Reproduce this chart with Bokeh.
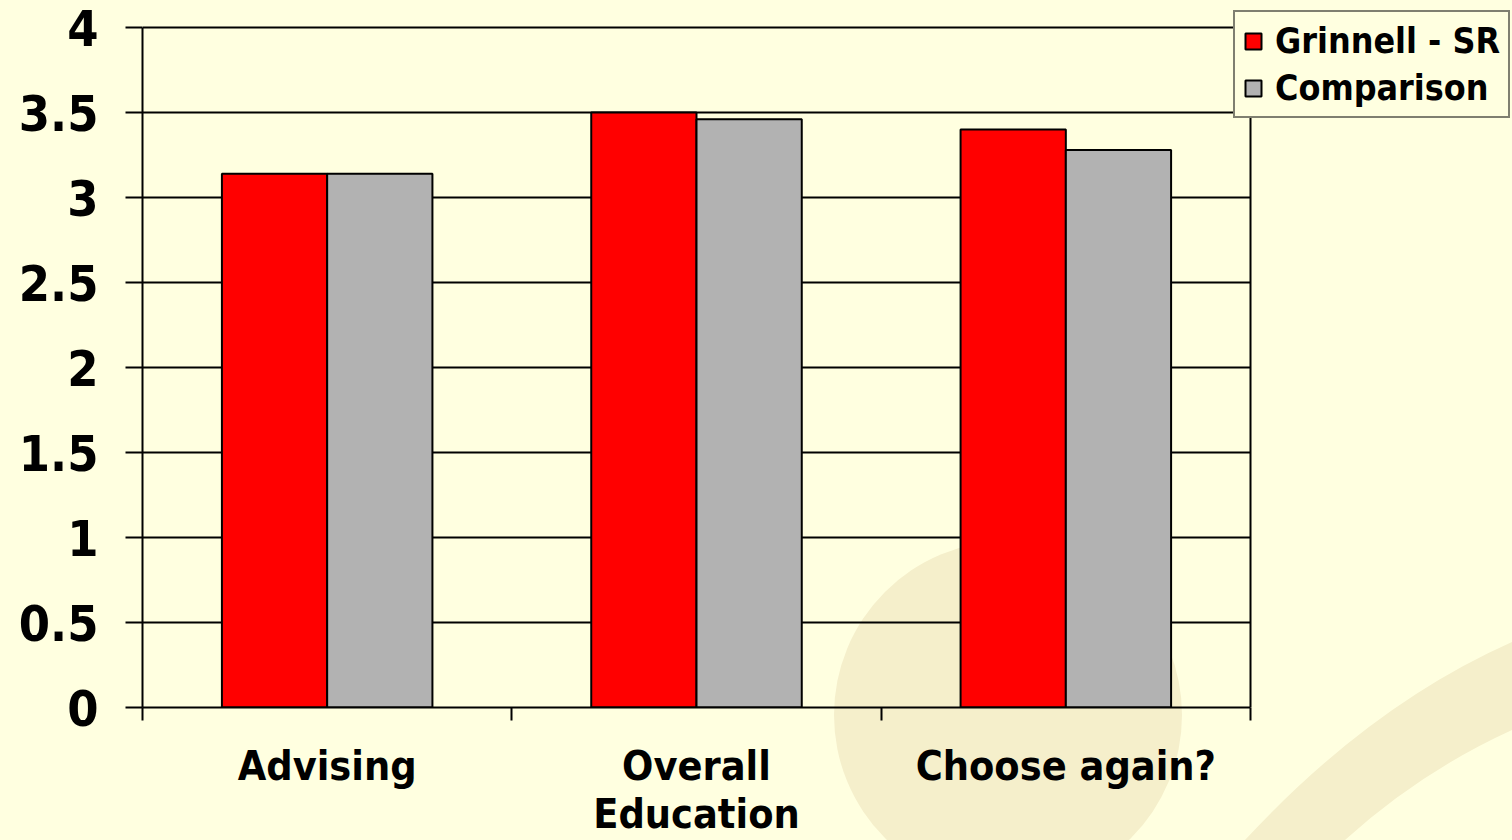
from urllib.parse import quote

from bokeh.plotting import figure
from bokeh.models import ColumnDataSource, FixedTicker, Legend, LegendItem, Span
from bokeh.embed import file_html
from bokeh.resources import INLINE

# ---------------- data ----------------
categories = ["Advising", "Overall\nEducation", "Choose again?"]
series_names = ["Grinnell - SR", "Comparison"]
grinnell_sr = [3.14, 3.50, 3.40]
comparison = [3.14, 3.46, 3.28]
y_ticks = [0, 0.5, 1, 1.5, 2, 2.5, 3, 3.5, 4]
y_tick_labels = ["0", "0.5", "1", "1.5", "2", "2.5", "3", "3.5", "4"]

# ---------------- style ----------------
FONT = "DejaVu Sans Condensed, DejaVu Sans"
BG = "#FFFFE0"
DECO = "#F5EFCB"
RED = "#FF0000"
GRAY = "#B2B2B2"

W, H = 1512, 840
LEFT, TOP, BOTTOM = 142, 8, 133           # frame borders in px
CHART_RIGHT_PX, CHART_TOP_PX = 1250, 27   # where the category area / value 4 end

n = len(categories)
centers = [i + 0.5 for i in range(n)]
bar_w = 0.285

# frame spans to the right edge so the legend may overhang the chart, as in the slide
x_end = n * (W - LEFT) / (CHART_RIGHT_PX - LEFT)
y_top = y_ticks[-1]
y_end = y_top * (H - BOTTOM - TOP) / (H - BOTTOM - CHART_TOP_PX)

src = ColumnDataSource(dict(
    xg=[c - bar_w / 2 for c in centers],
    xc=[c + bar_w / 2 for c in centers],
    g=grinnell_sr,
    c=comparison,
))

p = figure(width=W, height=H, x_range=(0, x_end), y_range=(0, y_end),
           output_backend="svg", toolbar_location=None,
           min_border_left=LEFT, min_border_right=0, min_border_top=TOP, min_border_bottom=BOTTOM)

# decorative slide background (page decoration only)
svg_bg = (
    f'<svg xmlns="http://www.w3.org/2000/svg" width="{W}" height="{H}">'
    f'<rect width="{W}" height="{H}" fill="{BG}"/>'
    f'<circle cx="1008" cy="715" r="174" fill="{DECO}"/>'
    f'<path d="M1512,642 Q1370,705 1245,840 L1345,840 Q1420,772 1512,730 Z" fill="{DECO}"/>'
    '</svg>'
)
p.styles = {"background-image": f'url("data:image/svg+xml;utf8,{quote(svg_bg)}")',
            "background-repeat": "no-repeat"}
p.background_fill_alpha = 0
p.border_fill_alpha = 0
p.outline_line_color = None

# grid lines limited to the chart area
p.xgrid.grid_line_color = None
yg = p.ygrid[0]
yg.ticker = FixedTicker(ticks=y_ticks)
yg.grid_line_color = "black"
yg.grid_line_width = 2
has_cross = "cross_bounds" in yg.properties()
if has_cross:
    yg.cross_bounds = (0, n)
    xg = p.xgrid[0]
    xg.ticker = FixedTicker(ticks=[n])
    xg.grid_line_color = "black"
    xg.grid_line_width = 2
    xg.cross_bounds = (0, y_top)
else:
    yg.grid_line_color = None
    p.segment(x0=[0] * len(y_ticks), x1=[n] * len(y_ticks), y0=y_ticks, y1=y_ticks,
              line_color="black", line_width=2)
    p.add_layout(Span(location=n, dimension="height", line_color="black", line_width=2))

r1 = p.vbar(x="xg", top="g", width=bar_w, bottom=0, source=src,
            fill_color=RED, line_color="black", line_width=2)
r2 = p.vbar(x="xc", top="c", width=bar_w, bottom=0, source=src,
            fill_color=GRAY, line_color="black", line_width=2)

# y axis
ya = p.yaxis[0]
ya.bounds = (0, y_top)
ya.ticker = FixedTicker(ticks=y_ticks)
ya.major_label_overrides = {t: lab for t, lab in zip(y_ticks, y_tick_labels)}
ya.major_label_text_font = FONT
ya.major_label_text_font_style = "bold"
ya.major_label_text_font_size = "50px"
ya.major_label_text_color = "black"
ya.major_label_standoff = 27
ya.major_tick_out = 17
ya.major_tick_in = 0
ya.major_tick_line_width = 2
ya.major_tick_line_color = "black"
ya.minor_tick_line_color = None
ya.axis_line_width = 2
ya.axis_line_color = "black"

# x axis: labels at category centres, tick marks at category boundaries
xa = p.xaxis[0]
xa.bounds = (0, n)
xa.ticker = FixedTicker(ticks=centers, minor_ticks=list(range(n + 1)))
xa.major_label_overrides = {c: lab for c, lab in zip(centers, categories)}
xa.major_label_text_font = FONT
xa.major_label_text_font_style = "bold"
xa.major_label_text_font_size = "41px"
xa.major_label_text_line_height = 1.0
xa.major_label_text_color = "black"
xa.major_label_standoff = 21
xa.major_tick_line_color = None
xa.major_tick_out = 0
xa.major_tick_in = 0
xa.minor_tick_line_color = "black"
xa.minor_tick_line_width = 2
xa.minor_tick_out = 13
xa.minor_tick_in = 0
xa.axis_line_width = 2
xa.axis_line_color = "black"

legend = Legend(
    items=[LegendItem(label=series_names[0], renderers=[r1]),
           LegendItem(label=series_names[1], renderers=[r2])],
    location=(1233 - LEFT, H - BOTTOM - 118),
    label_text_font=FONT, label_text_font_style="bold", label_text_font_size="35.5px",
    label_text_color="black",
    glyph_width=20, glyph_height=20, label_standoff=12,
    padding=8, spacing=6, margin=0,
    background_fill_color=BG, background_fill_alpha=1,
    border_line_color="black", border_line_width=2,
)
p.add_layout(legend)

open("out.html", "w").write(file_html(p, INLINE))
